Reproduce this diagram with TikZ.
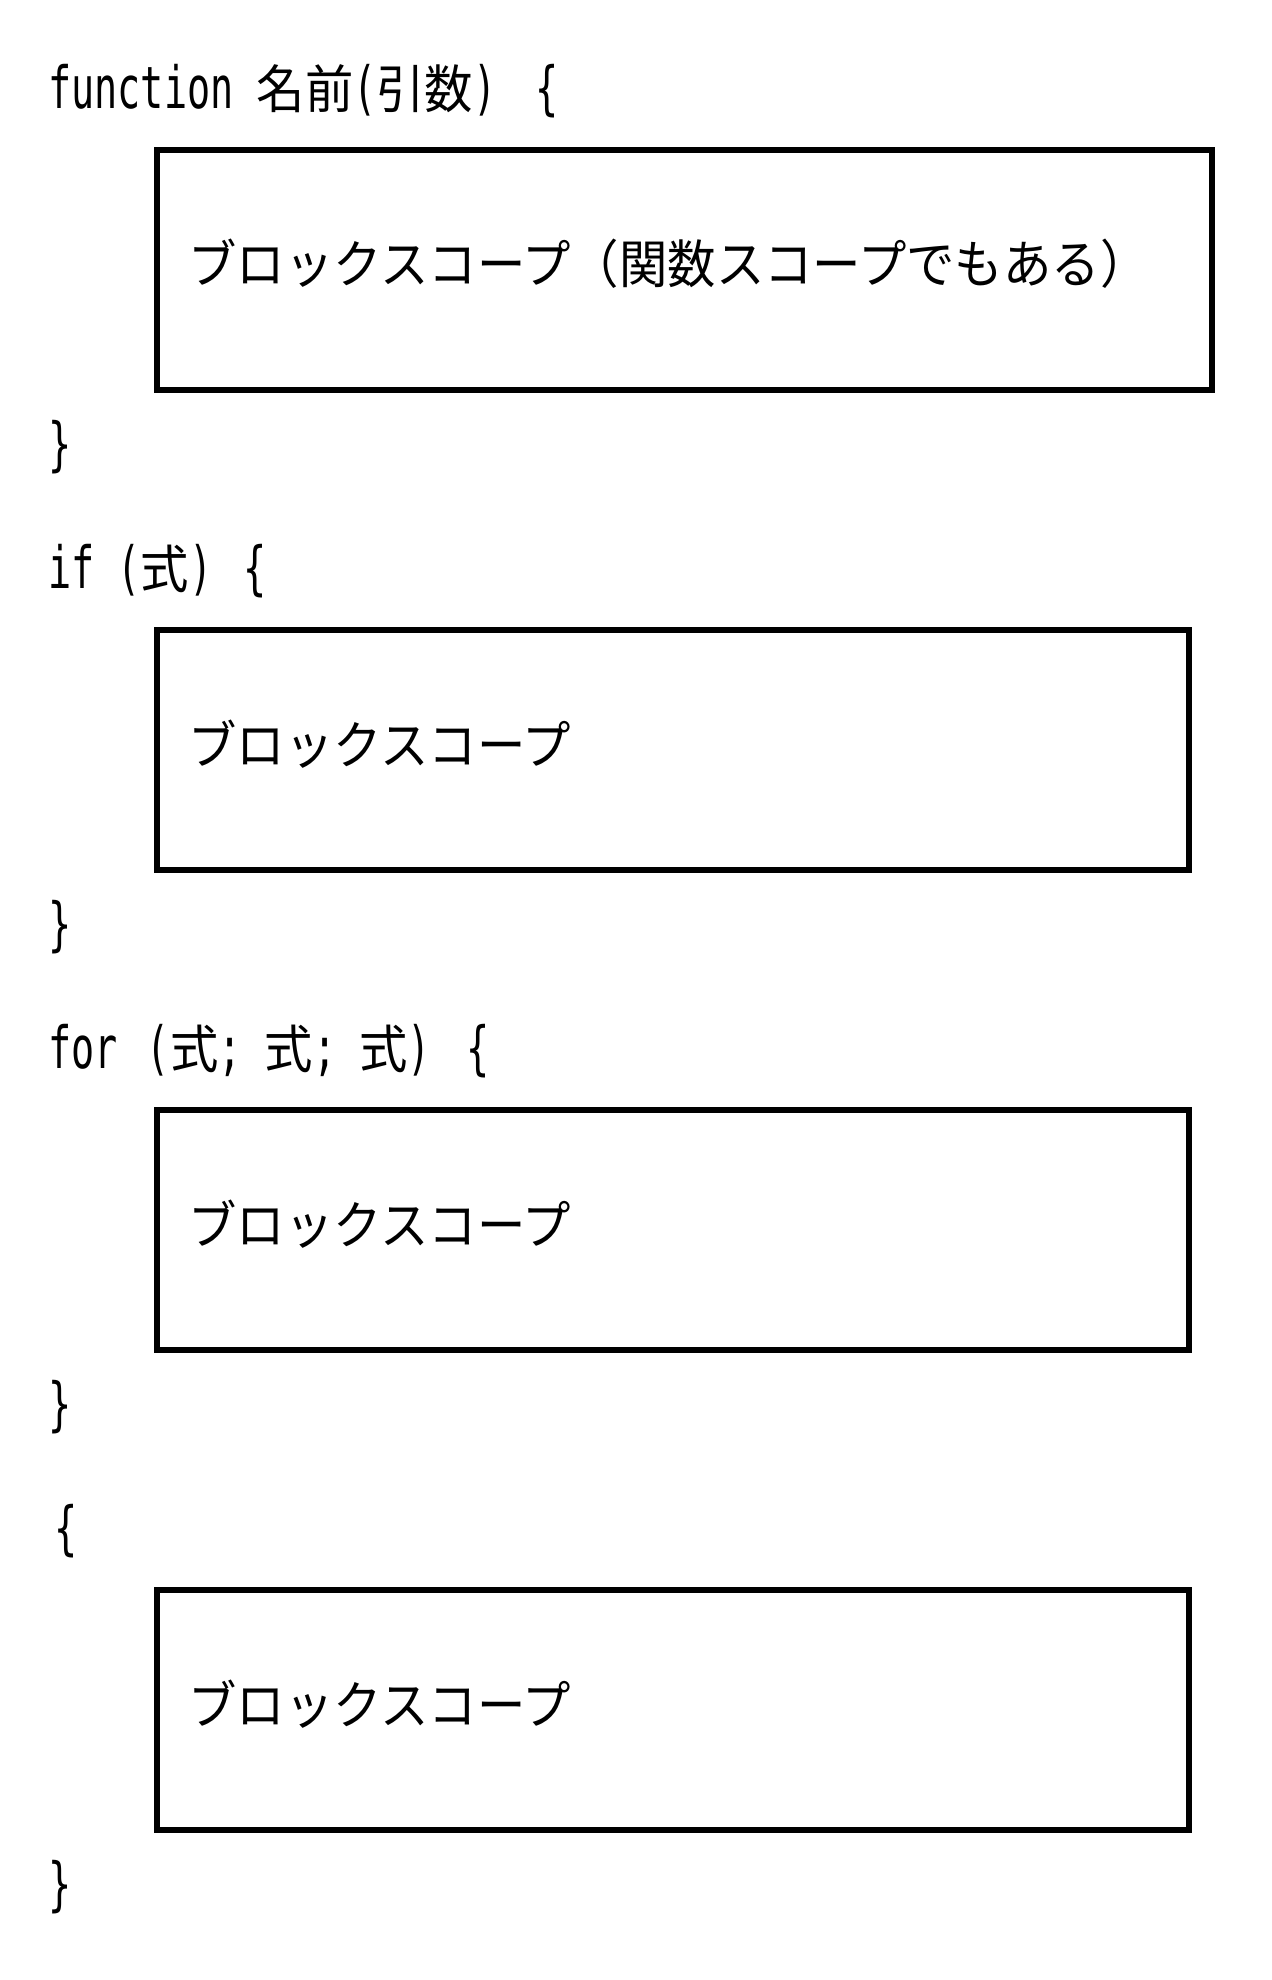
\documentclass[tikz,border=0pt]{standalone}
\usepackage{fontspec}
\newfontfamily\jpfont[FakeStretch=0.93]{Noto Sans CJK JP}
\newfontfamily\codefont[FakeStretch=0.66,Scale=1.12]{DejaVu Sans Mono}
\newcommand{\cd}[1]{{\codefont #1}}
\newcommand{\jp}[1]{{\jpfont #1}}
\usetikzlibrary{positioning}
\tikzset{
  codeline/.style={anchor=west, inner sep=0pt, font=\fontsize{26}{30}\selectfont},
  scopebox/.style={draw=black, line width=3pt, anchor=north west, inner sep=0pt},
  scopetext/.style={anchor=west, inner sep=0pt, font=\fontsize{26}{30}\selectfont}
}

\begin{document}
\begin{tikzpicture}[x=0.5pt, y=-0.5pt]
        \useasboundingbox[fill=white] (0, 0) rectangle (1272, 1980);
        % function
        \node[codeline] (fnhead) at (48, 91) {\cd{function }\jp{名前}\cd{(}\jp{引数}\cd{)}\hspace{8pt}\cd{ \{}};
        \node[scopebox, minimum width=527.5pt, minimum height=120pt] (fnbox) at (154, 147) {};
        \node[scopetext, right=17pt of fnbox.west, yshift=3pt] (fntext) {\jp{ブロックスコープ（関数スコープでもある）}};
        \node[codeline] (fnend) at (48, 447) {\cd{\}}};
        % if
        \node[codeline] (ifhead) at (48, 571) {\cd{if (}\jp{式}\cd{)}\hspace{4pt}\cd{ \{}};
        \node[scopebox, minimum width=516pt, minimum height=120pt] (ifbox) at (154, 627) {};
        \node[scopetext, right=17pt of ifbox.west, yshift=3pt] (iftext) {\jp{ブロックスコープ}};
        \node[codeline] (ifend) at (48, 927) {\cd{\}}};
        % for
        \node[codeline] (forhead) at (48, 1051) {\cd{for}\hspace{3pt}\cd{ (}\jp{式}\cd{; }\jp{式}\cd{; }\jp{式}\cd{)}\hspace{6pt}\cd{ \{}};
        \node[scopebox, minimum width=516pt, minimum height=120pt] (forbox) at (154, 1107) {};
        \node[scopetext, right=17pt of forbox.west, yshift=3pt] (fortext) {\jp{ブロックスコープ}};
        \node[codeline] (forend) at (48, 1407) {\cd{\}}};
        % block
        \node[codeline] (blkhead) at (54, 1531) {\cd{\{}};
        \node[scopebox, minimum width=516pt, minimum height=120pt] (blkbox) at (154, 1587) {};
        \node[scopetext, right=17pt of blkbox.west, yshift=3pt] (blktext) {\jp{ブロックスコープ}};
        \node[codeline] (blkend) at (48, 1887) {\cd{\}}};
      \end{tikzpicture}
\end{document}
